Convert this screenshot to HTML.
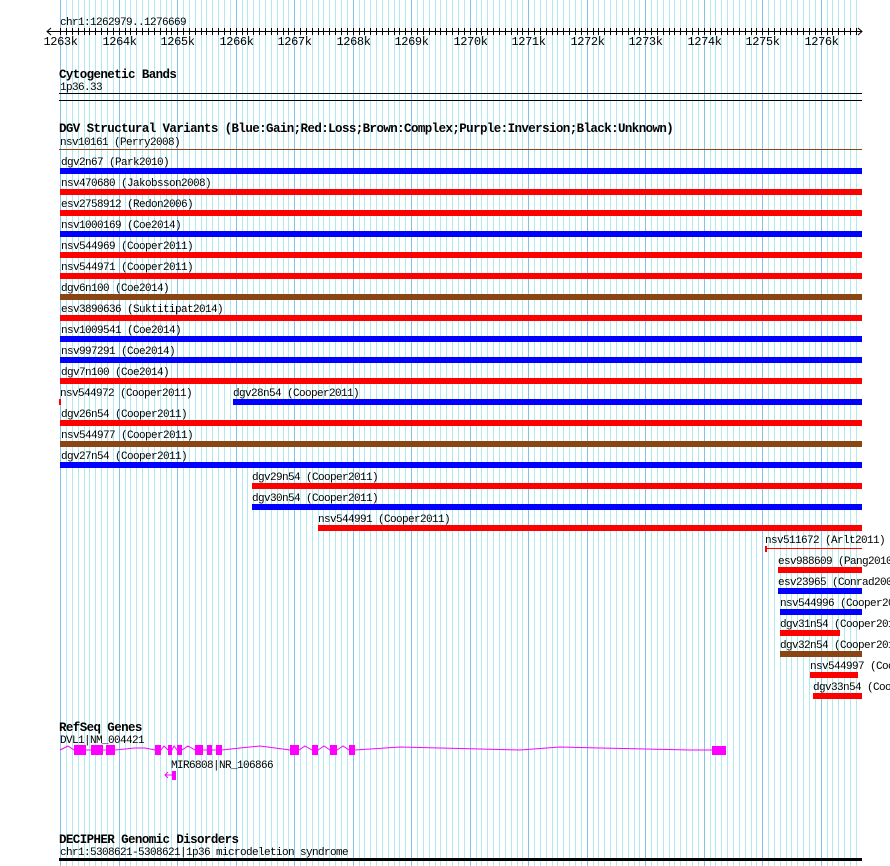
<!DOCTYPE html>
<html><head><meta charset="utf-8"><style>
html,body{margin:0;padding:0;background:#fff;}
svg{display:block;}
text{font-family:"Liberation Mono","DejaVu Sans Mono",monospace;font-size:11px;letter-spacing:-0.6px;fill:#000;}
.b{font-weight:bold;font-size:12.5px;letter-spacing:-0.6px;}
.t{font-size:12px;letter-spacing:-0.4px;}
</style></head><body>
<svg id="s" width="890" height="866" xmlns="http://www.w3.org/2000/svg">
<g id="grid"></g>
<g id="axis"></g>
<text x="60" y="25">chr1:1262979..1276669</text>
<text class="b" x="59" y="78">Cytogenetic Bands</text>
<text x="60" y="90">1p36.33</text>
<rect x="59" y="93" width="803" height="1" fill="#000"/>
<rect x="59" y="100" width="803" height="1" fill="#000"/>
<text class="b" x="59" y="132">DGV Structural Variants (Blue:Gain;Red:Loss;Brown:Complex;Purple:Inversion;Black:Unknown)</text>
<text x="60" y="145">nsv10161 (Perry2008)</text>
<rect x="59" y="149" width="803" height="1" fill="#8b4513"/>
<g id="rows"></g>
<text class="b" x="59" y="731">RefSeq Genes</text>
<text x="60" y="743">DVL1|NM_004421</text>
<polyline fill="none" stroke="#ff00ff" stroke-width="1" points="60,750 68,746 74,750 86,750 91,750 103,750 106,750 115,750 125,749 135,748 145,748 155,750 161,750 164,746 168,750 172,750 174,746 177,750 182,750 188,746 195,750 203,750 207,750 212,750 216,750 222,750 240,748 260,746 275,748 290,750 299,750 305,746 312,750 318,750 324,746 330,750 337,750 343,746 349,750 355,750 400,747 440,748 480,749 520,750 560,747 600,748 645,749 690,750 712,750"/>
<g fill="#ff00ff">
<rect x="74" y="745" width="12" height="10"/><rect x="91" y="745" width="12" height="10"/><rect x="106" y="745" width="9" height="10"/>
<rect x="155" y="745" width="6" height="10"/><rect x="168" y="745" width="4" height="10"/><rect x="177" y="745" width="5" height="10"/>
<rect x="195" y="745" width="8" height="10"/><rect x="207" y="745" width="5" height="10"/><rect x="216" y="745" width="6" height="10"/>
<rect x="290" y="745" width="9" height="10"/><rect x="312" y="745" width="6" height="10"/><rect x="330" y="745" width="7" height="10"/>
<rect x="349" y="745" width="6" height="10"/><rect x="712" y="746" width="14" height="9"/>
<rect x="172" y="771" width="4" height="9"/>
</g>
<text x="171" y="768">MIR6808|NR_106866</text>
<polyline fill="none" stroke="#ff00ff" points="168,772 165,775 168,778"/>
<line x1="165" y1="775" x2="172" y2="775" stroke="#ff00ff"/>
<text class="b" x="59" y="843">DECIPHER Genomic Disorders</text>
<text x="60" y="855">chr1:5308621-5308621|1p36 microdeletion syndrome</text>
<rect x="59" y="858" width="803" height="3" fill="#000"/>
</svg>
<script>
var NS="http://www.w3.org/2000/svg";
function el(p,t,a,txt){var e=document.createElementNS(NS,t);for(var k in a)e.setAttribute(k,a[k]);if(txt)e.textContent=txt;p.appendChild(e);return e;}
var g=document.getElementById('grid'),ax=document.getElementById('axis'),rows=document.getElementById('rows');
for(var i=0;i<=136;i++){var x=Math.round(60.2+i*5.85)+0.5;var maj=i%10==0;
 el(g,'line',{x1:x,y1:0,x2:x,y2:866,stroke:maj?'#80c4ec':'#aeeaf0','stroke-width':1});
 el(ax,'line',{x1:x,y1:28,x2:x,y2:35,stroke:'#000'});
 if(maj)el(ax,'text',{x:x,y:45,'text-anchor':'middle','class':'t'},(1263+i/10)+'k');}
el(ax,'line',{x1:47,y1:31.5,x2:862,y2:31.5,stroke:'#000'});
el(ax,'polyline',{points:'51,28 47,31.5 51,35',fill:'none',stroke:'#000'});
el(ax,'polyline',{points:'858,28 862,31.5 858,35',fill:'none',stroke:'#000'});
var B='#0000ff',R='#ff0000',N='#8b4513';
var d=[[0,'dgv2n67 (Park2010)',B,60],[1,'nsv470680 (Jakobsson2008)',R,60],[2,'esv2758912 (Redon2006)',R,60],[3,'nsv1000169 (Coe2014)',B,60],
[4,'nsv544969 (Cooper2011)',R,60],[5,'nsv544971 (Cooper2011)',R,60],[6,'dgv6n100 (Coe2014)',N,60],[7,'esv3890636 (Suktitipat2014)',R,60],
[8,'nsv1009541 (Coe2014)',B,60],[9,'nsv997291 (Coe2014)',B,60],[10,'dgv7n100 (Coe2014)',R,60],[11,'nsv544972 (Cooper2011)',R,59,61],
[11,'dgv28n54 (Cooper2011)',B,233],[12,'dgv26n54 (Cooper2011)',R,60],[13,'nsv544977 (Cooper2011)',N,60],[14,'dgv27n54 (Cooper2011)',B,60],
[15,'dgv29n54 (Cooper2011)',R,252],[16,'dgv30n54 (Cooper2011)',B,252],[17,'nsv544991 (Cooper2011)',R,318],
[19,'esv988609 (Pang2010)',R,778],[20,'esv23965 (Conrad2009)',B,778],[21,'nsv544996 (Cooper2011)',B,780],[22,'dgv31n54 (Cooper2011)',R,780,840],
[23,'dgv32n54 (Cooper2011)',N,780],[24,'nsv544997 (Cooper2011)',R,810,858],[25,'dgv33n54 (Cooper2011)',R,813]];
d.forEach(function(r){var y=168+21*r[0];var x2=r[4]||862;
 el(rows,'rect',{x:r[3],y:y,width:x2-r[3],height:6,fill:r[2]});
 el(rows,'text',{x:r[3]+(r[3]<62?1:0),y:y-3},r[1]);});
var y=168+21*18;
el(rows,'text',{x:765,y:y-3},'nsv511672 (Arlt2011)');
el(rows,'rect',{x:765,y:y+2,width:97,height:1,fill:R});
el(rows,'rect',{x:765,y:y,width:2,height:6,fill:R});
</script>
</body></html>
